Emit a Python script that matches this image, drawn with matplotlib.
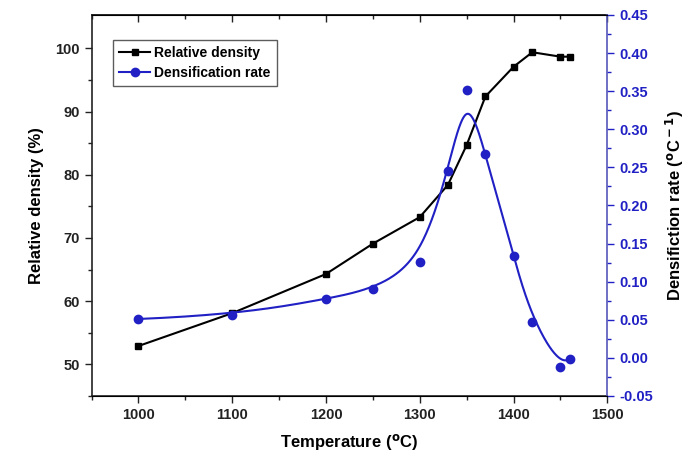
import numpy as np
import matplotlib.pyplot as plt

plt.rcParams['font.family'] = ['Liberation Sans', 'DejaVu Sans']
plt.rcParams['font.weight'] = 'bold'
plt.rcParams['mathtext.default'] = 'regular'

# data
temp = [1000, 1100, 1200, 1250, 1300, 1330, 1350, 1370, 1400, 1420, 1450, 1460]
rel_density = [52.9, 58.1, 64.3, 69.1, 73.3, 78.4, 84.7, 92.4, 97.1, 99.4, 98.7, 98.7]
dens_rate = [0.051, 0.056, 0.077, 0.090, 0.1255, 0.245, 0.352, 0.267, 0.134, 0.047, -0.012, -0.001]

blue = '#2020c4'


def bspline(px, py, n=400):
    # clamped cubic B-spline with the data points as control points (Origin style)
    px = np.asarray(px, float)
    py = np.asarray(py, float)
    m = len(px)
    k = 3
    inner = np.arange(1, m - k)
    knots = np.concatenate([[0] * (k + 1), inner, [m - k] * (k + 1)]).astype(float)
    u = np.linspace(0, m - k, n)
    u[-1] -= 1e-9
    xs, ys = [], []
    for uu in u:
        # Cox-de Boor
        N = np.array([1.0 if knots[i] <= uu < knots[i + 1] else 0.0
                      for i in range(len(knots) - 1)])
        for d in range(1, k + 1):
            Nn = np.zeros(len(knots) - 1 - d)
            for i in range(len(Nn)):
                a = 0.0
                if knots[i + d] != knots[i]:
                    a = (uu - knots[i]) / (knots[i + d] - knots[i]) * N[i]
                b = 0.0
                if knots[i + d + 1] != knots[i + 1]:
                    b = (knots[i + d + 1] - uu) / (knots[i + d + 1] - knots[i + 1]) * N[i + 1]
                Nn[i] = a + b
            N = Nn
        xs.append(np.dot(N, px))
        ys.append(np.dot(N, py))
    return np.array(xs), np.array(ys)


fig = plt.figure(figsize=(6.85, 4.68), dpi=100)
ax = fig.add_axes([0.1336, 0.154, 0.753, 0.814])
ax2 = ax.twinx()

l1, = ax.plot(temp, rel_density, color='black', lw=1.5, marker='s', ms=5,
              label='Relative density', zorder=3)

sx, sy = bspline(temp, dens_rate)
ax2.plot(sx, sy, color=blue, lw=1.5)
ax2.plot(temp, dens_rate, ls='none', marker='o', ms=6, color=blue)
l2, = ax2.plot([], [], color=blue, lw=1.5, marker='o', ms=6, label='Densification rate')

ax.set_xlim(950, 1500)
ax.set_ylim(45, 105.3)
ax2.set_ylim(-0.05, 0.45)

ax.set_xticks(np.arange(1000, 1501, 100))
ax.set_xticks(np.arange(950, 1501, 50), minor=True)
ax.set_yticks(np.arange(50, 101, 10))
ax.set_yticks(np.arange(45, 105, 5), minor=True)
ax2.set_yticks(np.arange(-0.05, 0.451, 0.05))
ax2.set_yticks(np.arange(-0.05, 0.451, 0.025), minor=True)
ax2.set_yticklabels([f'{v:.2f}' for v in np.arange(-0.05, 0.451, 0.05)])

ax.tick_params(axis='both', which='both', direction='out', labelsize=10.5,
               colors='#222222', width=1)
ax.tick_params(which='major', length=5)
ax.tick_params(which='minor', length=3)
# top axis ticks point into the plot
top = ax.secondary_xaxis('top')
top.set_xticks(np.arange(1000, 1501, 100))
top.set_xticks(np.arange(950, 1501, 50), minor=True)
top.tick_params(which='both', direction='in', labeltop=False, colors='#222222', width=1)
top.tick_params(which='major', length=5)
top.tick_params(which='minor', length=3)
top.spines['top'].set_linewidth(1.2)
top.spines['top'].set_color('#222222')

ax2.tick_params(axis='y', which='both', direction='out', labelsize=10.5,
                colors=blue, width=1)
ax2.tick_params(which='major', length=5)
ax2.tick_params(which='minor', length=3)

for s in ['left', 'bottom', 'top']:
    ax.spines[s].set_linewidth(1.2)
    ax.spines[s].set_color('#222222')
ax2.spines['right'].set_color('#5555bb')
ax2.spines['right'].set_linewidth(1.2)
ax2.spines['left'].set_visible(False)
ax.spines['right'].set_visible(False)

ax.set_xlabel(r'Temperature ($^{\rm o}$C)', fontsize=12, fontweight='bold', labelpad=8)
ax.set_ylabel('Relative density (%)', fontsize=12, fontweight='bold', labelpad=8)
ax2.set_ylabel(r'Densifiction rate ($^{\rm o}$C$^{\rm -1}$)', fontsize=12,
               fontweight='bold', color='black', labelpad=8)

leg = ax.legend(handles=[l1, l2], loc='upper left', bbox_to_anchor=(0.042, 0.935),
                borderaxespad=0, fontsize=10, frameon=True, fancybox=False,
                handlelength=2.2, handletextpad=0.3, borderpad=0.45, labelspacing=0.4)
leg.get_frame().set_edgecolor('#333333')
leg.get_frame().set_linewidth(1)

fig.savefig('out.png', dpi=100)
